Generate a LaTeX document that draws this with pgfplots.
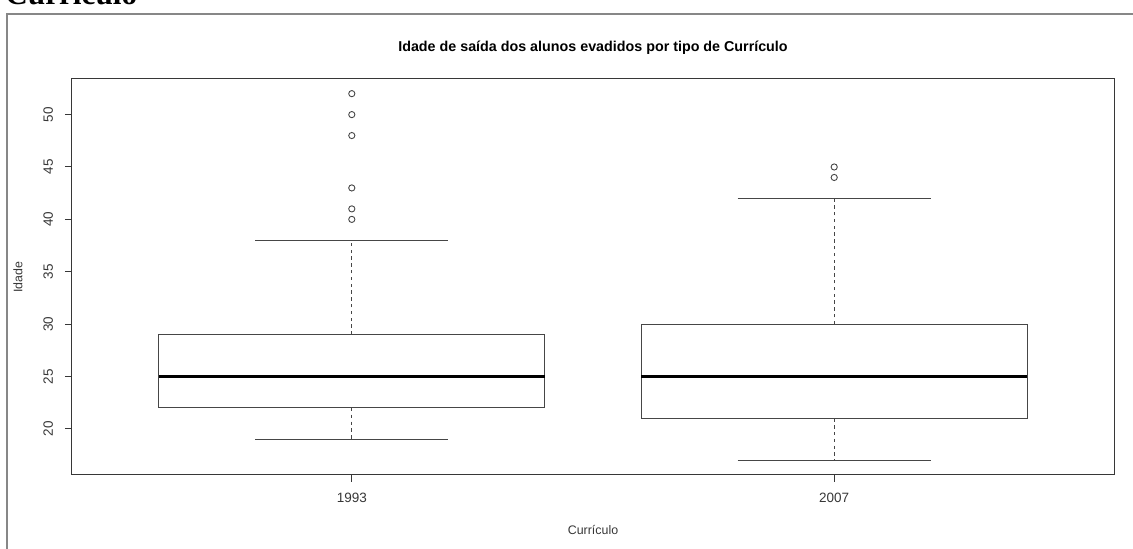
\documentclass[border=0pt]{standalone}
\usepackage{pgfplots}
\pgfplotsset{compat=1.18}
\usepackage{fontspec}
\setmainfont{Liberation Sans}
\newfontfamily\headserif{Liberation Serif}
\definecolor{framegray}{RGB}{135,135,135}
\definecolor{inkgray}{RGB}{55,55,55}
\definecolor{boxline}{RGB}{70,70,70}

\pgfplotsset{
  boxedge/.style={boxline, line width=0.5pt, solid, no marks},
  whiskerstem/.style={boxline, line width=0.5pt, dash pattern=on 1.7pt off 1.7pt, no marks},
  medianline/.style={black, line width=1.5pt, no marks},
  outlier/.style={boxline, only marks, mark=o, mark size=1.55pt,
    mark options={line width=0.45pt, solid}},
}

\begin{document}
\begin{tikzpicture}
\path[use as bounding box] (0,0) rectangle (566.5pt,274.5pt);
\clip (0,0) rectangle (566.5pt,274.5pt);
% section heading above the frame
\node[anchor=base west, inner sep=0pt, font=\headserif\bfseries\fontsize{15.6}{18}\selectfont]
  at (2.5pt,272pt) {Currículo};
\draw[framegray, line width=1pt] (3.5pt,-10pt) -- (3.5pt,267.5pt) -- (580pt,267.5pt);

\begin{axis}[
  at={(36pt,37pt)}, anchor=south west,
  scale only axis, width=521pt, height=198pt,
  xmin=0.42, xmax=2.58, ymin=15.6, ymax=53.4,
  xtick={1,2}, xticklabels={1993,2007},
  ytick={20,25,30,35,40,45,50},
  xtick pos=bottom, ytick pos=left,
  tick align=outside, major tick length=3.5pt,
  axis line style={inkgray, line width=0.5pt},
  every tick/.style={inkgray, line width=0.5pt},
  tick label style={font=\fontsize{6.75}{8}\selectfont, text=inkgray},
  yticklabel style={rotate=90, anchor=south, yshift=2.5pt},
  xticklabel style={yshift=-2pt},
  /pgf/number format/assume math mode=true,
  title={\bfseries Idade de saída dos alunos evadidos por tipo de Currículo},
  title style={at={(axis description cs:0.5,1.0808)}, anchor=center, yshift=-6.5pt,
    font=\fontsize{7.15}{9}\selectfont, text=black},
  xlabel={Currículo},
  xlabel style={at={(axis description cs:0.5,-0.1389)}, anchor=center,
    font=\fontsize{6.2}{8}\selectfont, text=inkgray},
  ylabel={Idade},
  ylabel style={at={(axis description cs:-0.0518,0.5)}, anchor=center,
    font=\fontsize{6.2}{8}\selectfont, text=inkgray},
]
% ---- 1993: whiskers 19/38, quartiles 22/29, median 25
\addplot[whiskerstem] coordinates {(1,29) (1,38)};
\addplot[whiskerstem] coordinates {(1,22) (1,19)};
\addplot[boxedge] coordinates {(0.8,38) (1.2,38)};
\addplot[boxedge] coordinates {(0.8,19) (1.2,19)};
\addplot[boxedge, fill=white] coordinates {(0.6,22) (1.4,22) (1.4,29) (0.6,29)} -- cycle;
\addplot[medianline] coordinates {(0.6,25) (1.4,25)};
\addplot[outlier] coordinates {(1,40) (1,41) (1,43) (1,48) (1,50) (1,52)};
% ---- 2007: whiskers 17/42, quartiles 21/30, median 25
\addplot[whiskerstem] coordinates {(2,30) (2,42)};
\addplot[whiskerstem] coordinates {(2,21) (2,17)};
\addplot[boxedge] coordinates {(1.8,42) (2.2,42)};
\addplot[boxedge] coordinates {(1.8,17) (2.2,17)};
\addplot[boxedge, fill=white] coordinates {(1.6,21) (2.4,21) (2.4,30) (1.6,30)} -- cycle;
\addplot[medianline] coordinates {(1.6,25) (2.4,25)};
\addplot[outlier] coordinates {(2,44) (2,45)};
\end{axis}
\end{tikzpicture}
\end{document}
